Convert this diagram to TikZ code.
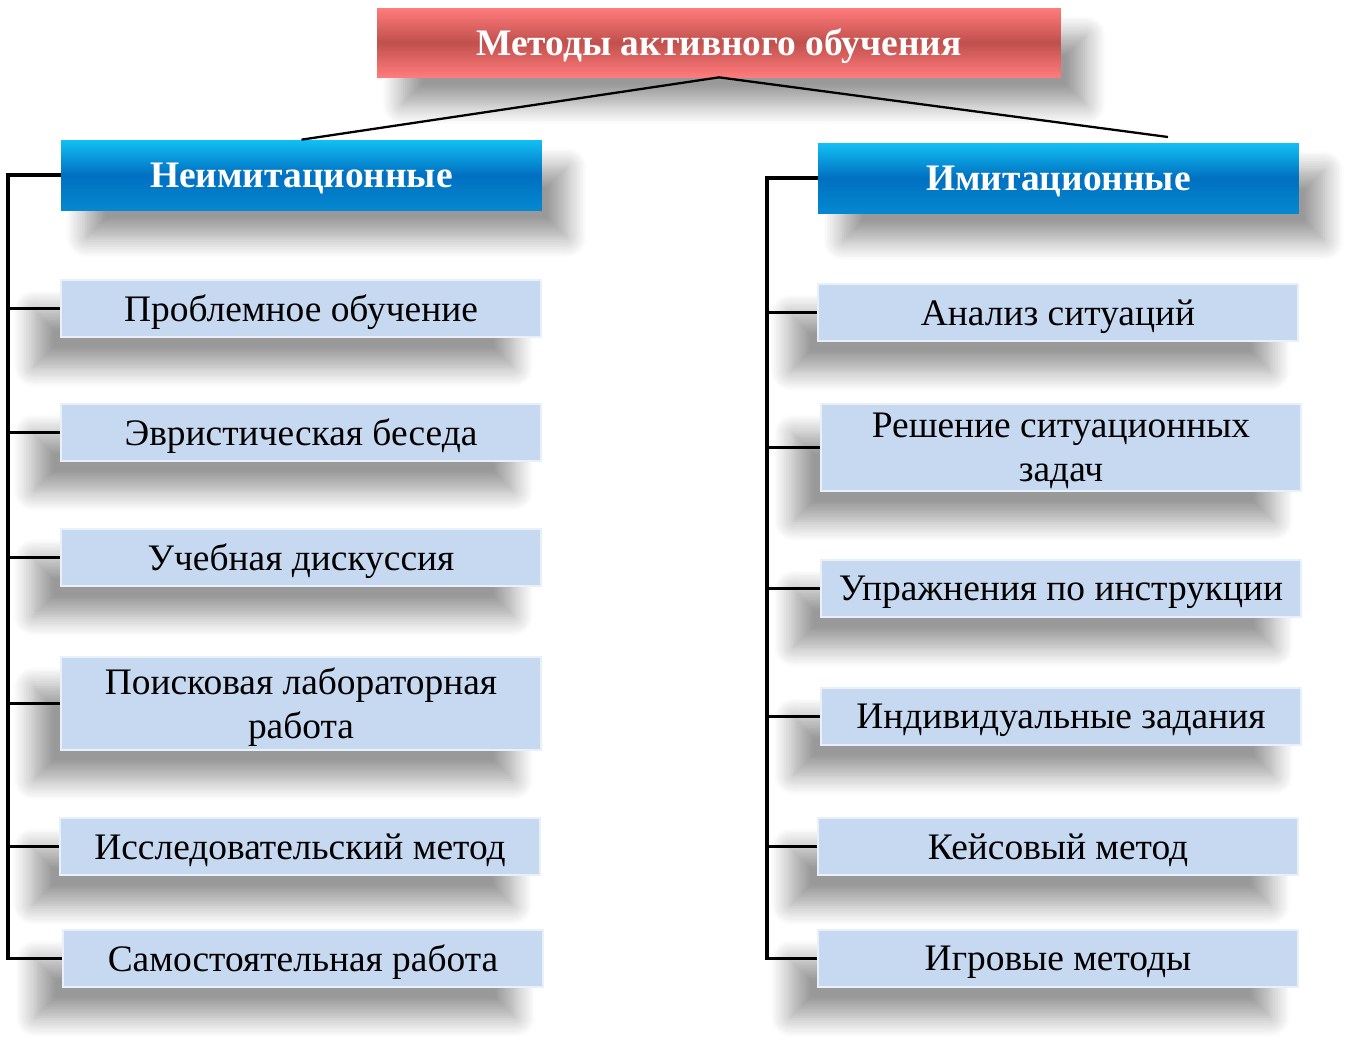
\documentclass[tikz,border=0pt]{standalone}
\usepackage{fontspec}
\setmainfont{Liberation Serif}
\usetikzlibrary{shadows.blur}

\definecolor{titlered}{HTML}{C0504D}
\definecolor{titlelight}{HTML}{FF7B7B}
\definecolor{headblue}{HTML}{0070C0}
\definecolor{headlight}{HTML}{12C0F5}
\definecolor{itemblue}{HTML}{C6D9F0}

\tikzset{
    headshadow/.style={blur shadow={shadow xshift=0.5cm, shadow yshift=-0.55cm, shadow blur radius=0.4cm, shadow blur steps=12, shadow opacity=40}},
    itemshadow/.style={blur shadow={shadow xshift=-0.55cm, shadow yshift=-0.6cm, shadow blur radius=0.4cm, shadow blur steps=12, shadow opacity=40}},
    titlebox/.style={headshadow, top color=titlelight, bottom color=titlelight, middle color=titlered,
        minimum width=13.68cm, minimum height=1.38cm, inner sep=0pt, text=white, text depth=0pt,
        font=\fontsize{21.3}{25}\selectfont\bfseries},
    headbox/.style={headshadow, top color=headlight, bottom color=headblue!70!headlight, middle color=headblue,
        minimum width=9.62cm, minimum height=1.4cm, inner sep=0pt, text=white, text depth=0pt,
        font=\fontsize{21.3}{25}\selectfont\bfseries},
    itembox/.style={itemshadow, fill=itemblue, draw=itemblue!40!white, line width=1.2pt,
        minimum width=9.6cm, minimum height=1.14cm, inner sep=0pt, align=center, text depth=0pt,
        font=\fontsize{21.3}{25}\selectfont},
    bus/.style={line width=1.8pt}
}

\begin{document}
\begin{tikzpicture}[x=0.02cm, y=-0.02cm]
            \useasboundingbox (0,0) rectangle (1359,1056);

            \node[titlebox] (Active Methods) at (719,42.5) {Методы активного обучения};

            \node[headbox] (Nonimitation) at (301.5,175) {Неимитационные};
            \node[headbox] (Imitation) at (1058.5,178) {Имитационные};

            \node[itembox] (Problem) at (301,308.5) {Проблемное обучение};
            \node[itembox] (Heuristic) at (301,432.5) {Эвристическая беседа};
            \node[itembox] (Discussion) at (301,557.5) {Учебная дискуссия};
            \node[itembox, minimum height=1.86cm] (Lab Work) at (301,703.5) {Поисковая лабораторная\\работа};
            \node[itembox] (Research) at (300,846.5) {Исследовательский метод};
            \node[itembox] (Self Work) at (303,958.5) {Самостоятельная работа};

            \node[itembox] (Situations) at (1058,312.5) {Анализ ситуаций};
            \node[itembox, minimum height=1.74cm] (Tasks) at (1061,447.5) {Решение ситуационных\\задач};
            \node[itembox] (Exercises) at (1061,588.5) {Упражнения по инструкции};
            \node[itembox] (Individual) at (1061,716.5) {Индивидуальные задания};
            \node[itembox] (Case) at (1058,846.5) {Кейсовый метод};
            \node[itembox] (Games) at (1058,958.5) {Игровые методы};

            \coordinate (Left Bus) at (8,0);
            \coordinate (Right Bus) at (767,0);
            \coordinate (Right End) at (1168,137);

            \draw[line width=1.3pt] (Active Methods.south) -- (Nonimitation.north);
            \draw[line width=1.3pt] (Active Methods.south) -- (Right End);

            \draw[bus] (Nonimitation.west) -| (Left Bus |- Self Work.west) -- (Self Work.west);
            \foreach \item in {Problem, Heuristic, Discussion, Lab Work, Research}
                \draw[bus] (\item.west) -- (Left Bus |- \item.west);

            \draw[bus] (Imitation.west) -| (Right Bus |- Games.west) -- (Games.west);
            \foreach \item in {Situations, Tasks, Exercises, Individual, Case}
                \draw[bus] (\item.west) -- (Right Bus |- \item.west);
        \end{tikzpicture}
\end{document}
